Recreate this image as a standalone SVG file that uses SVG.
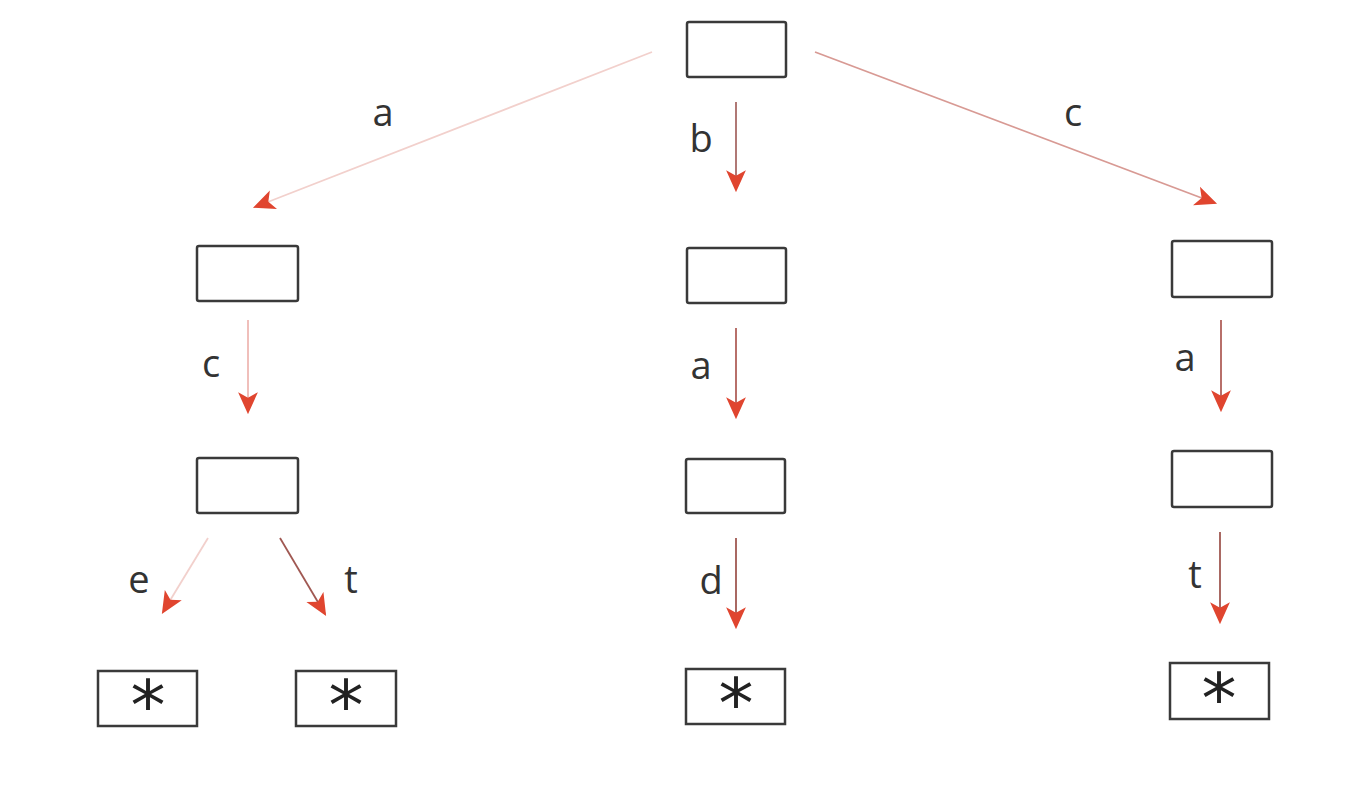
<svg xmlns="http://www.w3.org/2000/svg" width="1359" height="800" viewBox="0 0 1359 800">
<style>
.box{fill:#fff;stroke:#3a3a3a;stroke-width:2.5}
.lbl{font-family:"Open Sans","DejaVu Sans",sans-serif;font-size:38px;fill:#333;text-anchor:middle}
.star{font-family:"DejaVu Sans",sans-serif;font-size:70px;fill:#222;text-anchor:middle}
.e{fill:none;stroke-width:1.8;marker-end:url(#ah)}
</style>
<defs>
<marker id="ah" viewBox="0 0 20 20" refX="18" refY="10" markerWidth="22" markerHeight="22" markerUnits="userSpaceOnUse" orient="auto">
<path d="M0,1 L20,10 L0,19 L5,10 z" fill="#e0452f"/>
</marker>
</defs>
<rect width="1359" height="800" fill="#fff"/>
<g id="connectors">
<line class="e" x1="652" y1="52" x2="255" y2="207" stroke="#f2d0cc"/>
<line class="e" x1="736" y1="102" x2="736" y2="190" stroke="#a86a66"/>
<line class="e" x1="815" y1="52" x2="1215" y2="203" stroke="#d89a94"/>
<line class="e" x1="248" y1="320" x2="248" y2="412" stroke="#efb8b4"/>
<line class="e" x1="736" y1="328" x2="736" y2="417" stroke="#b0605a"/>
<line class="e" x1="1221" y1="320" x2="1221" y2="410" stroke="#b0605a"/>
<line class="e" x1="208" y1="538" x2="163" y2="612" stroke="#f2d0cc"/>
<line class="e" x1="280" y1="538" x2="325" y2="614" stroke="#a05852"/>
<line class="e" x1="736" y1="538" x2="736" y2="627" stroke="#a05852"/>
<line class="e" x1="1220" y1="532" x2="1220" y2="622" stroke="#a05852"/>
<text class="lbl" x="383" y="126">a</text>
<text class="lbl" x="701" y="152">b</text>
<text class="lbl" x="1073" y="126">c</text>
<text class="lbl" x="211" y="377">c</text>
<text class="lbl" x="701" y="379">a</text>
<text class="lbl" x="1185" y="371">a</text>
<text class="lbl" x="139" y="593">e</text>
<text class="lbl" x="351" y="593">t</text>
<text class="lbl" x="711" y="594">d</text>
<text class="lbl" x="1195" y="588">t</text>
</g>
<g id="root"><rect class="box" x="687" y="22" width="99" height="55" rx="2"/></g>
<g id="n_a"><rect class="box" x="197" y="246" width="101" height="55" rx="2"/></g>
<g id="n_b"><rect class="box" x="687" y="248" width="99" height="55" rx="2"/></g>
<g id="n_c"><rect class="box" x="1172" y="241" width="100" height="56" rx="2"/></g>
<g id="n_ac"><rect class="box" x="197" y="458" width="101" height="55" rx="2"/></g>
<g id="n_ba"><rect class="box" x="686" y="459" width="99" height="54" rx="2"/></g>
<g id="n_ca"><rect class="box" x="1172" y="451" width="100" height="56" rx="2"/></g>
<g id="leaf_ace"><rect class="box" x="98" y="671" width="99" height="55"/><text class="star" x="148" y="730">*</text></g>
<g id="leaf_act"><rect class="box" x="296" y="671" width="100" height="55"/><text class="star" x="346" y="730">*</text></g>
<g id="leaf_bad"><rect class="box" x="686" y="669" width="99" height="55"/><text class="star" x="736" y="728">*</text></g>
<g id="leaf_cat"><rect class="box" x="1170" y="663" width="99" height="56"/><text class="star" x="1219" y="723">*</text></g>
</svg>
